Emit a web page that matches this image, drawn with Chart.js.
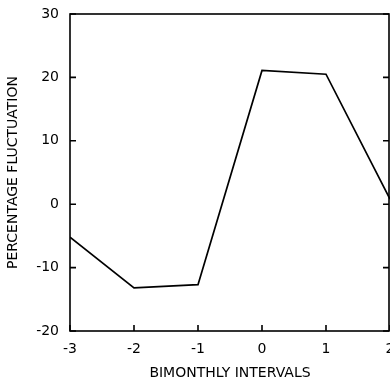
<!DOCTYPE html>
<html>
<head>
<meta charset="utf-8">
<script src="https://cdn.jsdelivr.net/npm/chart.js@4"></script>
<style>
  html, body { margin: 0; padding: 0; background: #fff; }
  #wrap { width: 390px; height: 383px; }
</style>
</head>
<body>
<div id="wrap"><canvas id="lineChart"></canvas></div>
<script>
const intervals = [-3, -2, -1, 0, 1, 2];
const fluctuation = [-5.2, -13.2, -12.7, 21.1, 20.5, 0.8];
const xTicks = [-3, -2, -1, 0, 1, 2];
const yTicks = [-20, -10, 0, 10, 20, 30];

const points = intervals.map((x, i) => ({ x: x, y: fluctuation[i] }));

// frame plus inward tick marks
const frame = {
  id: "frame",
  afterDraw(chart) {
    const ctx = chart.ctx;
    const a = chart.chartArea;
    const xs = chart.scales.x;
    const ys = chart.scales.y;
    ctx.save();
    ctx.strokeStyle = "#000";
    ctx.lineWidth = 1.6;
    ctx.strokeRect(a.left, a.top, a.right - a.left - 1, a.bottom - a.top);
    ctx.beginPath();
    yTicks.forEach(v => {
      const py = ys.getPixelForValue(v);
      ctx.moveTo(a.left, py);
      ctx.lineTo(a.left + 6, py);
      ctx.moveTo(a.right - 1, py);
      ctx.lineTo(a.right - 7, py);
    });
    xTicks.forEach(v => {
      const px = xs.getPixelForValue(v);
      ctx.moveTo(px, a.bottom);
      ctx.lineTo(px, a.bottom - 6);
    });
    ctx.stroke();
    ctx.restore();
  }
};

Chart.defaults.font.family = "'DejaVu Sans', 'Liberation Sans', Arial, sans-serif";
Chart.defaults.color = "#000";

new Chart(document.getElementById("lineChart"), {
  type: "line",
  data: {
    datasets: [{
      data: points,
      borderColor: "#000",
      borderWidth: 1.7,
      pointRadius: 0,
      tension: 0,
      fill: false
    }]
  },
  options: {
    responsive: true,
    maintainAspectRatio: false,
    animation: false,
    layout: { padding: { top: 14, right: 0, left: 0, bottom: 0 } },
    plugins: { legend: { display: false }, tooltip: { enabled: false } },
    scales: {
      x: {
        type: "linear",
        min: -3,
        max: 2,
        afterBuildTicks: s => { s.ticks = xTicks.map(v => ({ value: v })); },
        afterFit: s => { s.height = 52; s.paddingLeft = 0; s.paddingRight = 0; },
        grid: { display: false, drawTicks: false },
        border: { display: false },
        ticks: { padding: 10, font: { size: 14 }, maxRotation: 0 },
        title: {
          display: true,
          text: "BIMONTHLY INTERVALS",
          font: { size: 14 },
          padding: { top: 1, bottom: 1 }
        }
      },
      y: {
        min: -20,
        max: 30,
        afterBuildTicks: s => { s.ticks = yTicks.map(v => ({ value: v })); },
        afterFit: s => { s.width = 70; s.paddingTop = 0; s.paddingBottom = 0; },
        grid: { display: false, drawTicks: false },
        border: { display: false },
        ticks: { padding: 11, font: { size: 14 } },
        title: {
          display: true,
          text: "PERCENTAGE FLUCTUATION",
          font: { size: 14 },
          padding: { top: 5, bottom: 0 }
        }
      }
    }
  },
  plugins: [frame]
});
</script>
</body>
</html>
